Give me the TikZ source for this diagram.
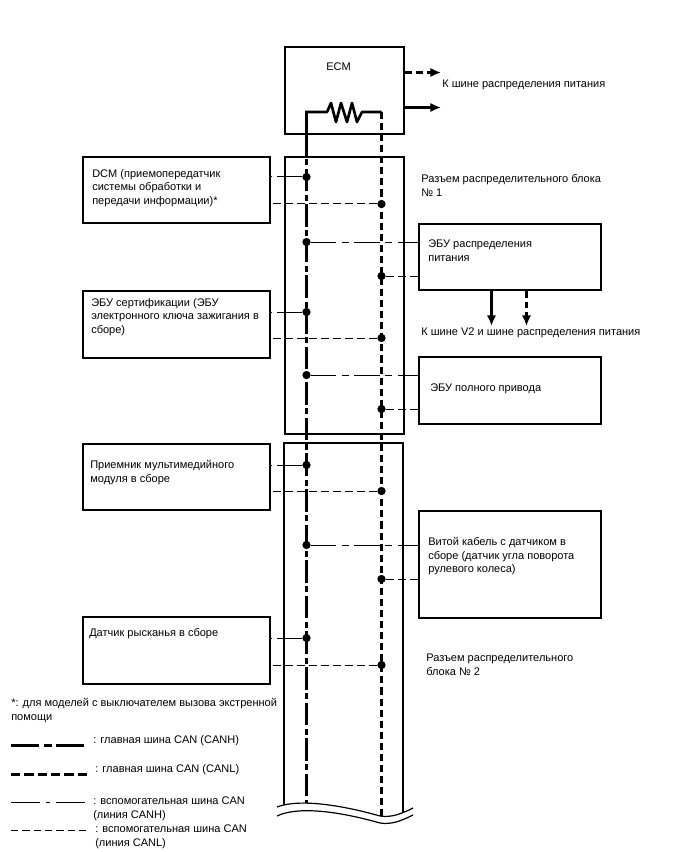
\documentclass[tikz,border=0pt]{standalone}
\usepackage{fontspec}
\setmainfont{Liberation Sans}
\usetikzlibrary{positioning,arrows.meta,calc}

\begin{document}
\begin{tikzpicture}[
  x=0.75pt, y=-0.75pt,
  every node/.style={font=\fontsize{8.27pt}{10.3pt}\selectfont},
  block/.style={draw=black, line width=1.4pt, fill=white, minimum width=0pt, minimum height=0pt, inner sep=0pt, anchor=north west},
  txt/.style={anchor=north west, inner sep=0pt, align=left},
  dot/.style={circle, fill=black, inner sep=0pt, minimum size=6.2pt},
  canh/.style={line width=2.25pt, dash pattern=on 17pt off 2.6pt on 4.5pt off 2.6pt},
  canl/.style={line width=2.25pt, dash pattern=on 5.3pt off 3pt},
  subh/.style={line width=0.75pt, dash pattern=on 19pt off 4pt on 5.5pt off 4pt},
  subl/.style={line width=0.75pt, dash pattern=on 6pt off 3pt},
  arr/.style={-{Latex[length=8pt,width=7pt]}},
  keyh/.style={line width=2.25pt, dash pattern=on 21pt off 3.5pt on 6pt off 3.5pt},
  keyl/.style={line width=2.25pt, dash pattern=on 7pt off 3pt},
  keysh/.style={line width=0.75pt, dash pattern=on 22pt off 4pt on 3.5pt off 4pt},
  keysl/.style={line width=0.75pt, dash pattern=on 5.5pt off 3pt}
]
  \useasboundingbox (0,0) rectangle (688,852);

  % Connector blocks
  \node[block, line width=1.8pt, minimum width=89.25pt, minimum height=65.25pt] (ecm) at (284,46) {};
  \node[block, minimum width=89.25pt, minimum height=207.75pt] (jb1) at (284,156) {};
  \coordinate (jb2a) at (284,443);
  \coordinate (jb2b) at (403,443);
  \coordinate (jb2c) at (284,806);
  \coordinate (jb2d) at (403,812);
  \draw[line width=1.4pt, fill=white] (jb2c) -- (jb2a) -- (jb2b) -- (jb2d);

  % Left units
  \node[block, minimum width=140.25pt, minimum height=49.5pt] (dcm) at (82,156) {};
  \node[block, minimum width=140.25pt, minimum height=50pt] (cert) at (82,290) {};
  \node[block, minimum width=140.25pt, minimum height=49.5pt] (media) at (82,443) {};
  \node[block, minimum width=140.25pt, minimum height=50pt] (yaw) at (82,616) {};

  % Right units
  \node[block, minimum width=136.5pt, minimum height=49.5pt] (power) at (418,223) {};
  \node[block, minimum width=136.5pt, minimum height=50pt] (awd) at (418,356) {};
  \node[block, minimum width=136.5pt, minimum height=80pt] (spiral) at (418,510) {};

  % Junction points
  \node[dot] (h1) at (306.5,177) {};
  \node[dot] (l1) at (381.5,204) {};
  \node[dot] (h2) at (306.5,242) {};
  \node[dot] (l2) at (381.5,276) {};
  \node[dot] (h3) at (306.5,312) {};
  \node[dot] (l3) at (381.5,338) {};
  \node[dot] (h4) at (306.5,375) {};
  \node[dot] (l4) at (381.5,409) {};
  \node[dot] (h5) at (306.5,465) {};
  \node[dot] (l5) at (381.5,491) {};
  \node[dot] (h6) at (306.5,545) {};
  \node[dot] (l6) at (381.5,579) {};
  \node[dot] (h7) at (306.5,638) {};
  \node[dot] (l7) at (381.5,665) {};

  % Bus ends
  \coordinate (rh) at (306.5,112);
  \coordinate (rl) at (381.5,112);
  \coordinate (hend) at (306.5,804);
  \coordinate (lend) at (381.5,816);

  % Main bus
  \draw[line width=2.25pt] (rh) -- (306.5,133);
  \draw[canh] (306.5,133) -- (hend);
  \draw[canl] (rl) -- (lend);
  \draw[line width=2pt, line join=round] (305,112) -- (327,112) -- (331,103) -- (336,122) -- (341,103) -- (347,122) -- (352,103) -- (357,122) -- (362,112) -- (rl);

  % Sub bus
  \draw[subh] (h1) -- (dcm.east |- h1);
  \draw[subl] (l1) -- (dcm.east |- l1);
  \draw[subh] (h3) -- (cert.east |- h3);
  \draw[subl] (l3) -- (cert.east |- l3);
  \draw[subh] (h5) -- (media.east |- h5);
  \draw[subl] (l5) -- (media.east |- l5);
  \draw[subh] (h7) -- (yaw.east |- h7);
  \draw[subl] (l7) -- (yaw.east |- l7);
  \draw[subh] (h2) -- (power.west |- h2);
  \draw[subl] (l2) -- (power.west |- l2);
  \draw[subh] (h4) -- (awd.west |- h4);
  \draw[subl] (l4) -- (awd.west |- l4);
  \draw[subh] (h6) -- (spiral.west |- h6);
  \draw[subl] (l6) -- (spiral.west |- l6);

  % Arrows
  \coordinate (eout1) at (441,72.5);
  \coordinate (eout2) at (441,107.5);
  \coordinate (pout1) at (491.5,326);
  \coordinate (pout2) at (526.5,326);
  \draw[arr, line width=2.25pt, dash pattern=on 5pt off 3pt] (ecm.east |- eout1) -- (eout1);
  \draw[arr, line width=2.25pt] (ecm.east |- eout2) -- (eout2);
  \draw[arr, line width=2.25pt] (power.south -| pout1) -- (pout1);
  \draw[arr, line width=2.25pt, dash pattern=on 5pt off 3pt] (power.south -| pout2) -- (pout2);

  % Labels
  \node[txt] (ecmlbl) at (326,63) {ECM};
  \node[txt] (toppower) at (442,80) {К шине распределения питания};
  \node[txt] (jb1lbl) at (421,174.5) {Разъем распределительного блока\\№ 1};
  \node[txt] (dcmlbl) at (92,169) {DCM (приемопередатчик\\системы обработки и\\передачи информации)*};
  \node[txt] (powerlbl) at (428,240) {ЭБУ распределения\\питания};
  \node[txt] (certlbl) at (91,298) {ЭБУ сертификации (ЭБУ\\электронного ключа зажигания в\\сборе)};
  \node[txt] (v2lbl) at (421,328) {К шине V2 и шине распределения питания};
  \node[txt] (awdlbl) at (430,384) {ЭБУ полного привода};
  \node[txt] (medialbl) at (90,460) {Приемник мультимедийного\\модуля в сборе};
  \node[txt] (spirallbl) at (428,537) {Витой кабель с датчиком в\\сборе (датчик угла поворота\\рулевого колеса)};
  \node[txt] (yawlbl) at (89,628) {Датчик рысканья в сборе};
  \node[txt] (jb2lbl) at (426,653.5) {Разъем распределительного\\блока № 2};

  % Legend
  \node[txt] (note) at (11,698) {*: для моделей с выключателем вызова экстренной\\помощи};
  \node[txt] (lg1) at (93,735) {: главная шина CAN (CANH)};
  \node[txt] (lg2) at (95,764) {: главная шина CAN (CANL)};
  \node[txt] (lg3) at (93,797) {: вспомогательная шина CAN\\(линия CANH)};
  \node[txt] (lg4) at (95,825) {: вспомогательная шина CAN\\(линия CANL)};
  \coordinate (k1) at (11,745.5);
  \coordinate (k2) at (11,774.5);
  \coordinate (k3) at (11,802);
  \coordinate (k4) at (11,830);
  \draw[keyh] (k1) -- (87,745.5);
  \draw[keyl] (k2) -- (88,774.5);
  \draw[keysh] (k3) -- (87,802);
  \draw[keysl] (k4) -- (88,830);

  % Break in the bus
  \coordinate (wa) at (277,807);
  \coordinate (wb) at (413,808);
  \coordinate (wc) at (277,816);
  \coordinate (wd) at (413,815);
  \fill[white] (wa) .. controls (300,798) and (345,806) .. (380,816) .. controls (392,818) and (403,813) .. (wb) -- (413,830) -- (277,830) -- cycle;
  \draw[line width=0.9pt] (wa) .. controls (300,798) and (345,806) .. (380,816) .. controls (392,818) and (403,813) .. (wb);
  \draw[line width=0.9pt] (wc) .. controls (300,805) and (345,813) .. (380,823) .. controls (392,825) and (403,820) .. (wd);
\end{tikzpicture}
\end{document}
